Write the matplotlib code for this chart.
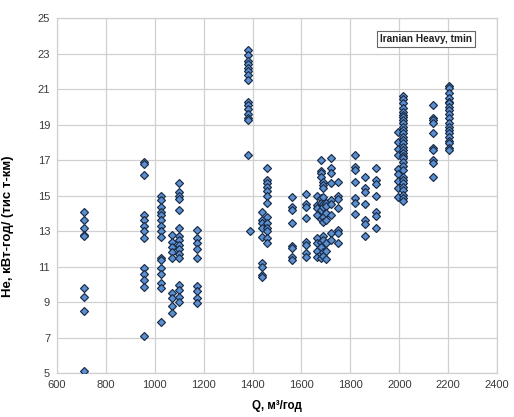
import matplotlib
matplotlib.use("Agg")
import matplotlib.pyplot as plt

plt.rcParams['font.family'] = ['Liberation Sans', 'DejaVu Sans']

# Q values (m3/h) of each vertical group of points
q_values = [710, 957, 1027, 1072, 1097, 1171, 1380, 1390, 1440, 1460,
            1560, 1620, 1665, 1680, 1690, 1700, 1720, 1750, 1820, 1860,
            1905, 1995, 2015, 2140, 2205]

# He values for each group
he_710 = [14.1, 13.6, 13.2, 12.8, 12.7, 9.8, 9.3, 8.5, 5.1]
he_957 = [16.9, 16.8, 16.15, 13.9, 13.6, 13.3, 13.0, 12.6, 10.9, 10.6, 10.25, 9.85, 7.1]
he_1027 = [15.0, 14.75, 14.35, 14.1, 13.9, 13.6, 13.3, 13.0, 12.65, 11.5, 11.35,
           10.9, 10.6, 10.1, 9.8, 7.9]
he_1072 = [12.8, 12.4, 12.1, 11.8, 11.5, 9.5, 9.2, 8.8, 8.4]
he_1097 = [15.7, 15.2, 15.0, 14.8, 14.2, 13.2, 12.7, 12.5, 12.2, 12.0, 11.7, 11.5,
           9.95, 9.7, 9.3, 9.0]
he_1171 = [13.05, 12.6, 12.3, 12.0, 11.5, 9.9, 9.6, 9.2, 8.95]
he_1380 = [23.2, 22.9, 22.6, 22.4, 22.2, 22.0, 21.8, 21.5, 20.3, 20.1, 19.9, 19.6,
           19.4, 19.25, 17.3]
he_1390 = [13.0]
he_1440 = [14.1, 13.6, 13.45, 13.2, 12.65, 11.2, 11.0, 10.5, 10.4]
he_1460 = [16.55, 15.9, 15.7, 15.5, 15.25, 15.0, 14.6, 13.8, 13.45, 13.2, 13.0,
           12.6, 12.3]
he_1560 = [14.9, 14.35, 14.2, 13.45, 12.15, 12.05, 11.55, 11.35]
he_1620 = [15.1, 14.55, 14.35, 13.75, 12.4, 12.2, 11.75, 11.55]
he_1665 = [15.0, 14.45, 14.3, 13.9, 12.6, 12.3, 11.9, 11.55]
he_1680 = [17.0, 16.4, 16.3, 16.05, 14.85, 14.6, 14.2, 13.7, 12.4, 12.1, 11.7, 11.5]
he_1690 = [15.75, 15.6, 15.4, 14.9, 14.5, 14.35, 13.8, 13.5, 12.7, 12.5, 11.8, 11.6]
he_1700 = [14.6, 14.4, 14.0, 13.6, 12.3, 11.9, 11.4]
he_1720 = [17.1, 16.55, 16.3, 15.7, 14.75, 14.5, 13.9, 12.9, 12.5]
he_1750 = [15.75, 15.0, 14.8, 14.3, 13.05, 12.9, 12.3]
he_1820 = [17.3, 16.6, 16.45, 15.75, 14.85, 14.6, 13.95]
he_1860 = [16.05, 15.4, 15.2, 14.55, 13.6, 13.4, 12.7]
he_1905 = [16.55, 15.85, 15.65, 15.0, 14.05, 13.85, 13.2]
he_1995 = [18.6, 18.0, 17.6, 17.3, 16.5, 16.2, 15.8, 15.4, 14.9]
he_2015 = [20.6, 20.44, 20.2, 19.93, 19.7, 19.54, 19.42, 19.25, 19.08, 18.86,
           18.69, 18.52, 18.3, 18.13, 17.96, 17.73, 17.56, 17.39, 17.23, 17.11,
           16.89, 16.66, 16.44, 16.04, 15.87, 15.7, 15.48, 15.31, 15.03, 14.86, 14.69]
he_2140 = [20.1, 19.4, 19.25, 19.1, 18.5, 17.7, 17.55, 17.0, 16.85, 16.05]
he_2205 = [21.2, 21.05, 20.8, 20.5, 20.3, 20.2, 20.0, 19.8, 19.6, 19.4, 19.1,
           18.85, 18.7, 18.5, 18.3, 18.1, 17.95, 17.7, 17.55]

he_groups = [he_710, he_957, he_1027, he_1072, he_1097, he_1171, he_1380, he_1390,
             he_1440, he_1460, he_1560, he_1620, he_1665, he_1680, he_1690, he_1700,
             he_1720, he_1750, he_1820, he_1860, he_1905, he_1995, he_2015, he_2140,
             he_2205]

x_ticks = [600, 800, 1000, 1200, 1400, 1600, 1800, 2000, 2200, 2400]
y_ticks = [5, 7, 9, 11, 13, 15, 17, 19, 21, 23, 25]

xs, ys = [], []
for q, hs in zip(q_values, he_groups):
    for h in hs:
        xs.append(q)
        ys.append(h)

fig = plt.figure(figsize=(5.14, 4.17), dpi=100)
ax = fig.add_axes([0.111, 0.1055, 0.856, 0.851])

ax.plot(xs, ys, linestyle='none', marker='D', markersize=4.3,
        markerfacecolor='#5a8fd2', markeredgecolor='#1a2b45', markeredgewidth=0.85,
        zorder=3)

ax.set_xlim(600, 2400)
ax.set_ylim(5, 25)
ax.set_xticks(x_ticks)
ax.set_yticks(y_ticks)
ax.tick_params(length=0, labelsize=8, labelcolor='#3a3a3a', pad=5)
ax.grid(True, color='#d0d0d0', linewidth=0.9, zorder=0)
ax.set_axisbelow(True)
for s in ax.spines.values():
    s.set_color('#d0d0d0')
    s.set_linewidth(0.9)

ax.set_xlabel('Q, м³/год', fontsize=8.3, fontweight='bold', labelpad=7)
ax.set_ylabel('Не, кВт-год/ (тис т-км)', fontsize=9.5, fontweight='bold')
ax.yaxis.set_label_coords(-0.098, 0.414)

ax.text(0.839, 0.941, 'Iranian Heavy, tmin', transform=ax.transAxes,
        ha='center', va='center', fontsize=7.3, fontweight='bold', color='#222222',
        bbox=dict(boxstyle='square,pad=0.3', facecolor='white', edgecolor='#666666',
                  linewidth=0.8), zorder=5)

fig.savefig('out.png', dpi=100)
